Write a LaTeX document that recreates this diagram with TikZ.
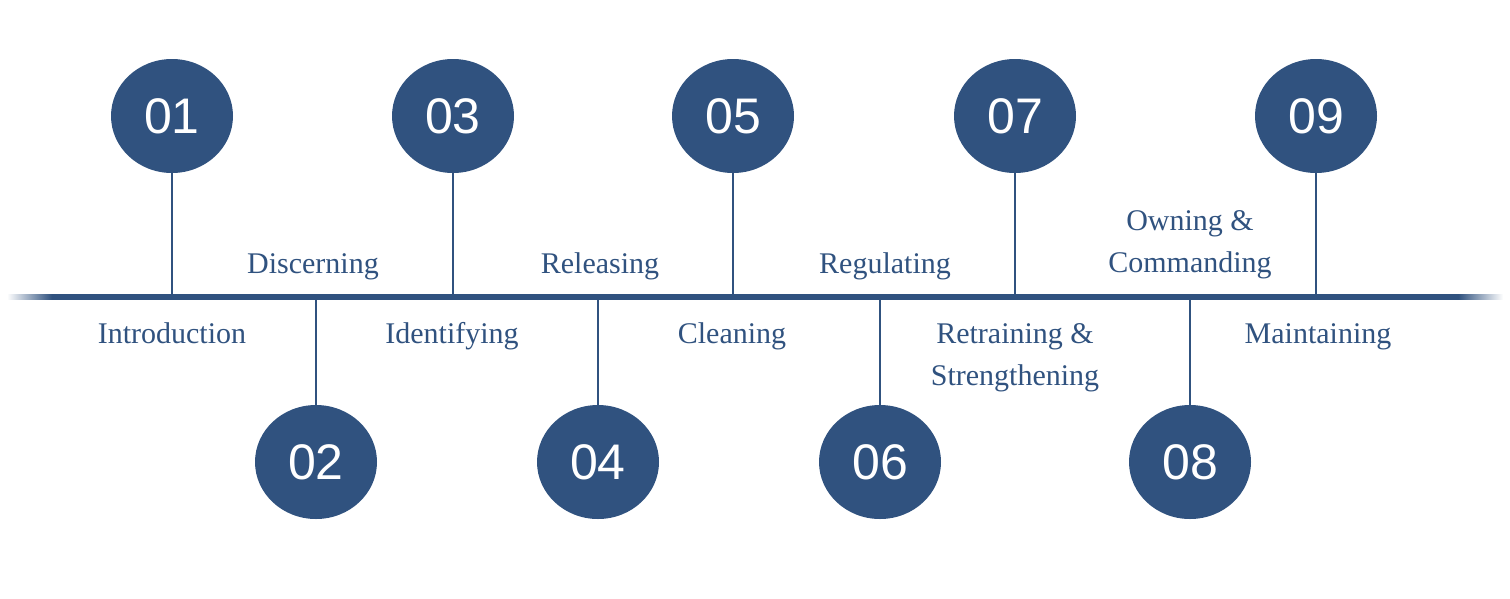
\documentclass[tikz,border=0pt]{standalone}
\usepackage{fontspec}
\setmainfont{Liberation Serif}
\newfontfamily\numfont{Liberation Sans}
\usetikzlibrary{shapes.geometric}
\definecolor{navy}{HTML}{30527F}
\pgfdeclarehorizontalshading{axisfade}{100bp}{color(0bp)=(white); color(25bp)=(white);
	color(26.5bp)=(navy); color(73.5bp)=(navy); color(75bp)=(white); color(100bp)=(white)}

\tikzset{
	stepdot/.style={ellipse, fill=navy, minimum width=122pt, minimum height=114pt,
		inner sep=0pt, text=white, font=\numfont\fontsize{50}{50}\selectfont},
	steptext/.style={anchor=base, align=center, text=navy, inner sep=0pt,
		font=\fontsize{30}{42}\selectfont},
	stem/.style={draw=navy, line width=2pt}
}

\begin{document}
\begin{tikzpicture}[x=1pt,y=-1pt]
	\useasboundingbox (0,0) rectangle (1510,598);
	% time axis
	\coordinate (axis) at (0,297);
	\shade[shading=axisfade] (7,294.75) rectangle (1503,299.25);
	% steps
	\foreach \n/\x in {01/172,03/453,05/733,07/1015,09/1316}
		\node[stepdot] (c\n) at (\x,116) {\n};
	\foreach \n/\x in {02/316,04/598,06/880,08/1190}
		\node[stepdot] (c\n) at (\x,462) {\n};
	\foreach \n in {01,03,05,07,09}
		\draw[stem] (c\n.south) -- (c\n.south |- axis);
	\foreach \n in {02,04,06,08}
		\draw[stem] (c\n.north) -- (c\n.north |- axis);
	% labels
	\node[steptext] (t01) at (172,343) {Introduction};
	\node[steptext] (t02) at (313,273) {Discerning};
	\node[steptext] (t03) at (452,343) {Identifying};
	\node[steptext] (t04) at (600,273) {Releasing};
	\node[steptext] (t05) at (732,343) {Cleaning};
	\node[steptext] (t06) at (885,273) {Regulating};
	\node[steptext] (t07) at (1015,385) {Retraining \&\\Strengthening};
	\node[steptext] (t08) at (1190,272) {Owning \&\\Commanding};
	\node[steptext] (t09) at (1318,343) {Maintaining};
\end{tikzpicture}
\end{document}
